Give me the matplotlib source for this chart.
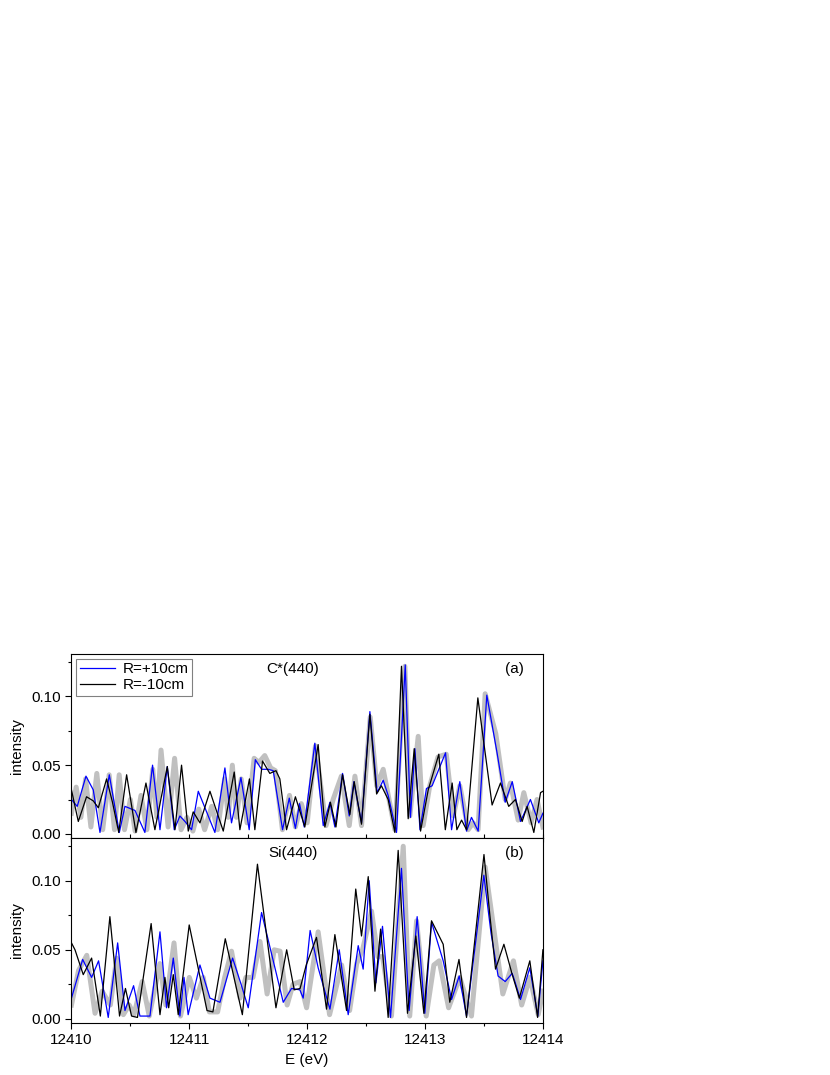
import numpy as np
import matplotlib
matplotlib.use("Agg")
import matplotlib.pyplot as plt
from matplotlib.ticker import MultipleLocator, FormatStrFormatter

plt.rcParams['font.family'] = ['Liberation Sans', 'DejaVu Sans']
plt.rcParams['font.size'] = 11

# ---- panel (a) C*(440) ----
a_blue_e = [12410.000, 12410.049, 12410.123, 12410.185, 12410.242, 12410.321, 12410.406, 12410.454,
            12410.539, 12410.623, 12410.688, 12410.751, 12410.813, 12410.872, 12410.920, 12410.963,
            12411.019, 12411.076, 12411.217, 12411.302, 12411.358, 12411.438, 12411.508, 12411.560,
            12411.613, 12411.669, 12411.712, 12411.791, 12411.848, 12411.900, 12411.935, 12411.975,
            12412.065, 12412.136, 12412.193, 12412.235, 12412.300, 12412.357, 12412.396, 12412.461,
            12412.532, 12412.594, 12412.645, 12412.687, 12412.758, 12412.832, 12412.876, 12412.914,
            12412.957, 12413.012, 12413.060, 12413.174, 12413.225, 12413.295, 12413.352, 12413.394,
            12413.451, 12413.524, 12413.611, 12413.680, 12413.740, 12413.810, 12413.894, 12413.965,
            12414.000]
a_blue_i = [0.025, 0.020, 0.042, 0.032, 0.001, 0.043, 0.001, 0.020,
            0.017, 0.001, 0.050, 0.003, 0.049, 0.003, 0.013, 0.009,
            0.003, 0.031, 0.001, 0.048, 0.008, 0.041, 0.003, 0.054,
            0.047, 0.047, 0.046, 0.003, 0.026, 0.004, 0.022, 0.005,
            0.066, 0.006, 0.023, 0.005, 0.044, 0.013, 0.038, 0.008,
            0.089, 0.030, 0.039, 0.028, 0.001, 0.123, 0.012, 0.062,
            0.003, 0.033, 0.035, 0.059, 0.003, 0.038, 0.002, 0.012,
            0.002, 0.101, 0.059, 0.023, 0.038, 0.009, 0.025, 0.008,
            0.015]

a_black_e = [12410.000, 12410.058, 12410.128, 12410.185, 12410.228, 12410.298, 12410.348, 12410.401,
             12410.468, 12410.547, 12410.632, 12410.708, 12410.813, 12410.878, 12410.934, 12410.991,
             12411.033, 12411.090, 12411.175, 12411.288, 12411.381, 12411.429, 12411.510, 12411.556,
             12411.621, 12411.683, 12411.735, 12411.768, 12411.825, 12411.900, 12411.980, 12412.093,
             12412.150, 12412.197, 12412.244, 12412.300, 12412.362, 12412.399, 12412.461, 12412.532,
             12412.589, 12412.630, 12412.687, 12412.744, 12412.800, 12412.857, 12412.908, 12412.962,
             12413.027, 12413.117, 12413.172, 12413.230, 12413.270, 12413.310, 12413.352, 12413.448,
             12413.569, 12413.640, 12413.710, 12413.767, 12413.824, 12413.866, 12413.923, 12413.980,
             12414.000]
a_black_i = [0.032, 0.009, 0.027, 0.024, 0.019, 0.040, 0.023, 0.001,
             0.043, 0.001, 0.037, 0.003, 0.049, 0.003, 0.050, 0.002,
             0.016, 0.008, 0.031, 0.002, 0.045, 0.003, 0.040, 0.003,
             0.053, 0.044, 0.046, 0.040, 0.003, 0.027, 0.005, 0.065,
             0.005, 0.023, 0.005, 0.043, 0.014, 0.038, 0.007, 0.087,
             0.029, 0.035, 0.025, 0.001, 0.122, 0.011, 0.062, 0.002,
             0.032, 0.058, 0.003, 0.037, 0.003, 0.010, 0.003, 0.099,
             0.021, 0.037, 0.020, 0.025, 0.009, 0.020, 0.001, 0.030,
             0.031]

a_gray_e = [12410.000, 12410.040, 12410.080, 12410.120, 12410.165, 12410.215, 12410.265, 12410.320,
            12410.365, 12410.405, 12410.450, 12410.500, 12410.540, 12410.590, 12410.640, 12410.690,
            12410.725, 12410.760, 12410.820, 12410.875, 12410.930, 12410.980, 12411.030, 12411.080,
            12411.130, 12411.190, 12411.240, 12411.300, 12411.330, 12411.365, 12411.400, 12411.440,
            12411.490, 12411.550, 12411.590, 12411.640, 12411.690, 12411.730, 12411.790, 12411.850,
            12411.900, 12411.950, 12412.000, 12412.070, 12412.160, 12412.220, 12412.290, 12412.357,
            12412.405, 12412.461, 12412.535, 12412.590, 12412.645, 12412.744, 12412.829, 12412.871,
            12412.942, 12412.984, 12413.040, 12413.110, 12413.180, 12413.240, 12413.295, 12413.366,
            12413.408, 12413.450, 12413.510, 12413.600, 12413.680, 12413.724, 12413.790, 12413.838,
            12413.900, 12413.950, 12414.000]
a_gray_i = [0.015, 0.034, 0.012, 0.040, 0.005, 0.044, 0.003, 0.043,
            0.003, 0.043, 0.003, 0.025, 0.002, 0.028, 0.003, 0.047,
            0.012, 0.061, 0.005, 0.055, 0.003, 0.012, 0.002, 0.018,
            0.003, 0.020, 0.003, 0.040, 0.012, 0.050, 0.012, 0.040,
            0.008, 0.055, 0.052, 0.057, 0.048, 0.046, 0.003, 0.028,
            0.005, 0.022, 0.008, 0.064, 0.006, 0.025, 0.042, 0.006,
            0.042, 0.006, 0.085, 0.035, 0.047, 0.003, 0.122, 0.013,
            0.071, 0.006, 0.035, 0.056, 0.058, 0.013, 0.035, 0.003,
            0.008, 0.003, 0.102, 0.073, 0.025, 0.037, 0.010, 0.030,
            0.008, 0.025, 0.005]

# ---- panel (b) Si(440) ----
b_blue_e = [12410.000, 12410.095, 12410.171, 12410.230, 12410.312, 12410.392, 12410.454, 12410.527,
            12410.581, 12410.666, 12410.751, 12410.807, 12410.864, 12410.920, 12410.955, 12410.990,
            12411.090, 12411.175, 12411.260, 12411.367, 12411.443, 12411.500, 12411.613, 12411.712,
            12411.797, 12411.867, 12411.938, 12411.966, 12412.025, 12412.093, 12412.193, 12412.272,
            12412.348, 12412.433, 12412.475, 12412.526, 12412.583, 12412.639, 12412.707, 12412.800,
            12412.865, 12412.933, 12412.998, 12413.055, 12413.154, 12413.225, 12413.290, 12413.352,
            12413.499, 12413.560, 12413.620, 12413.680, 12413.740, 12413.810, 12413.889, 12413.957,
            12414.000]
b_blue_i = [0.015, 0.043, 0.030, 0.042, 0.001, 0.055, 0.006, 0.024,
            0.002, 0.002, 0.063, 0.008, 0.044, 0.002, 0.030, 0.003,
            0.039, 0.015, 0.012, 0.044, 0.024, 0.008, 0.077, 0.042,
            0.012, 0.022, 0.021, 0.015, 0.064, 0.037, 0.007, 0.050,
            0.003, 0.053, 0.036, 0.100, 0.026, 0.067, 0.001, 0.109,
            0.006, 0.074, 0.004, 0.070, 0.042, 0.014, 0.031, 0.002,
            0.104, 0.062, 0.031, 0.027, 0.033, 0.014, 0.037, 0.002,
            0.042]

b_black_e = [12410.000, 12410.030, 12410.100, 12410.171, 12410.245, 12410.326, 12410.408, 12410.458,
             12410.510, 12410.560, 12410.676, 12410.751, 12410.793, 12410.825, 12410.864, 12410.906,
             12410.999, 12411.150, 12411.200, 12411.305, 12411.450, 12411.578, 12411.735, 12411.826,
             12411.890, 12411.940, 12411.992, 12412.079, 12412.164, 12412.235, 12412.334, 12412.412,
             12412.461, 12412.518, 12412.575, 12412.623, 12412.687, 12412.772, 12412.851, 12412.922,
             12412.990, 12413.055, 12413.154, 12413.210, 12413.288, 12413.352, 12413.500, 12413.550,
             12413.598, 12413.669, 12413.740, 12413.800, 12413.889, 12413.955, 12414.000]
b_black_i = [0.055, 0.050, 0.032, 0.044, 0.002, 0.074, 0.002, 0.022,
             0.002, 0.001, 0.069, 0.003, 0.030, 0.008, 0.032, 0.003,
             0.068, 0.006, 0.005, 0.058, 0.003, 0.112, 0.008, 0.050,
             0.021, 0.022, 0.039, 0.059, 0.007, 0.061, 0.006, 0.094,
             0.060, 0.103, 0.020, 0.065, 0.001, 0.122, 0.004, 0.060,
             0.004, 0.071, 0.054, 0.012, 0.043, 0.001, 0.119, 0.075,
             0.036, 0.054, 0.032, 0.015, 0.042, 0.001, 0.050]

b_gray_e = [12410.000, 12410.060, 12410.130, 12410.200, 12410.260, 12410.330, 12410.383, 12410.440,
            12410.490, 12410.530, 12410.600, 12410.660, 12410.750, 12410.800, 12410.870, 12410.925,
            12411.000, 12411.060, 12411.118, 12411.170, 12411.240, 12411.300, 12411.358, 12411.430,
            12411.480, 12411.540, 12411.600, 12411.660, 12411.720, 12411.770, 12411.830, 12411.880,
            12411.940, 12411.995, 12412.093, 12412.190, 12412.292, 12412.360, 12412.420, 12412.470,
            12412.546, 12412.600, 12412.640, 12412.715, 12412.815, 12412.870, 12412.928, 12413.010,
            12413.075, 12413.120, 12413.200, 12413.295, 12413.394, 12413.510, 12413.590, 12413.660,
            12413.750, 12413.820, 12413.890, 12413.960, 12414.000]
b_gray_i = [0.010, 0.035, 0.046, 0.004, 0.020, 0.010, 0.044, 0.003,
            0.010, 0.003, 0.027, 0.002, 0.040, 0.010, 0.055, 0.002,
            0.030, 0.015, 0.030, 0.005, 0.005, 0.030, 0.049, 0.015,
            0.030, 0.030, 0.056, 0.018, 0.050, 0.049, 0.010, 0.025,
            0.027, 0.008, 0.063, 0.003, 0.039, 0.006, 0.040, 0.050,
            0.078, 0.045, 0.045, 0.002, 0.125, 0.002, 0.071, 0.002,
            0.039, 0.042, 0.008, 0.030, 0.002, 0.110, 0.061, 0.018,
            0.042, 0.010, 0.030, 0.003, 0.020]

panels = [
    (a_gray_e, a_gray_i, a_blue_e, a_blue_i, a_black_e, a_black_i, "C*(440)", "(a)"),
    (b_gray_e, b_gray_i, b_blue_e, b_blue_i, b_black_e, b_black_i, "Si(440)", "(b)"),
]

fig = plt.figure(figsize=(8.3, 10.75), dpi=100)
ax1 = fig.add_axes([0.0861, 0.2205, 0.568, 0.1712])
ax2 = fig.add_axes([0.0861, 0.0484, 0.568, 0.1721])

for ax, (ge, gi, be, bi, ke, ki, name, tag) in zip([ax1, ax2], panels):
    ax.plot(ge, gi, color='#c0c0c0', lw=3.6, solid_joinstyle='round', zorder=1)
    ax.plot(be, bi, color='#0000ff', lw=0.9, label='R=+10cm', zorder=2)
    ax.plot(ke, ki, color='black', lw=0.9, label='R=-10cm', zorder=3)
    ax.set_xlim(12410, 12414)
    ax.set_ylim(-0.003, 0.131)
    ax.xaxis.set_major_locator(MultipleLocator(1))
    ax.xaxis.set_minor_locator(MultipleLocator(0.5))
    ax.xaxis.set_major_formatter(FormatStrFormatter('%d'))
    ax.yaxis.set_major_locator(MultipleLocator(0.05))
    ax.yaxis.set_minor_locator(MultipleLocator(0.025))
    ax.yaxis.set_major_formatter(FormatStrFormatter('%.2f'))
    ax.tick_params(which='major', direction='out', length=4, width=0.8, labelsize=11)
    ax.tick_params(which='minor', direction='out', length=2.5, width=0.8)
    ax.set_ylabel('intensity', fontsize=11, labelpad=5)
    for s in ax.spines.values():
        s.set_linewidth(0.8)
    ax.text(12411.88, 0.120, name, ha='center', va='center', fontsize=11)
    ax.text(12413.76, 0.120, tag, ha='center', va='center', fontsize=11)

ax1.tick_params(axis='x', which='both', direction='inout', length=6, labelbottom=False)
ax2.set_xlabel('E (eV)', fontsize=11)

leg = ax1.legend(loc='upper left', fontsize=11, handlelength=2.3, handletextpad=0.5,
                 labelspacing=0.1, borderpad=0.25, borderaxespad=0.3, fancybox=False,
                 framealpha=1)
leg.get_frame().set_edgecolor('#808080')
leg.get_frame().set_linewidth(0.8)

fig.savefig('out.png', dpi=100)
